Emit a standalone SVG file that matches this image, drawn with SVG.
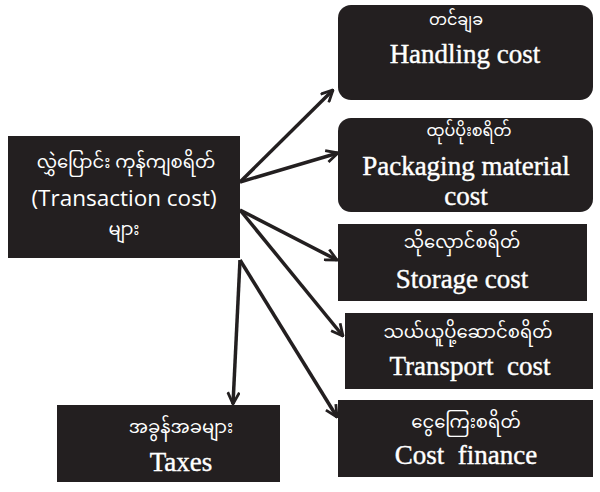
<svg xmlns="http://www.w3.org/2000/svg" width="600" height="492" viewBox="0 0 600 492">
<defs>
<style>
.box{fill:#231f20;}
.my{font-family:"Noto Sans Myanmar","Padauk","Myanmar Text","Noto Sans",sans-serif;font-size:18px;fill:#fff;text-anchor:middle;dominant-baseline:central;}
.sm{font-size:16px;}
.en{font-family:"Liberation Serif","Times New Roman",serif;font-size:27px;fill:#fff;stroke:#fff;stroke-width:0.4;text-anchor:middle;white-space:pre;}
.sans{font-family:"Open Sans","Noto Sans",sans-serif;font-size:22.5px;fill:#fff;text-anchor:middle;}
.con{stroke:#231f20;stroke-width:3.5;fill:none;marker-end:url(#ah);}
</style>
<marker id="ah" viewBox="0 0 12 12" refX="11" refY="6" markerWidth="14" markerHeight="14" markerUnits="userSpaceOnUse" orient="auto">
<path d="M1,1 L11,6 L1,11" fill="none" stroke="#231f20" stroke-width="2.4" stroke-linejoin="miter"/>
</marker>
</defs>
<rect width="600" height="492" fill="#fff"/>
<g id="connectors">
<line class="con" x1="240" y1="182" x2="333" y2="90"/>
<line class="con" x1="240" y1="182" x2="338" y2="153"/>
<line class="con" x1="240" y1="210" x2="337" y2="260"/>
<line class="con" x1="240" y1="210" x2="343" y2="336"/>
<line class="con" x1="240" y1="260" x2="337" y2="417"/>
<line class="con" x1="240" y1="260" x2="233" y2="404"/>
</g>
<g id="source">
<rect class="box" x="8" y="136" width="232" height="122"/>
<text class="my" x="126" y="163">လွှဲပြောင်း ကုန်ကျစရိတ်</text>
<text class="sans" x="124" y="206">(Transaction cost)</text>
<text class="my" x="124" y="230">များ</text>
</g>
<g id="handling">
<rect class="box" x="338" y="5" width="255" height="95" rx="13"/>
<text class="my sm" x="456" y="21">တင်ချခ</text>
<text class="en" x="465" y="63">Handling cost</text>
</g>
<g id="packaging">
<rect class="box" x="338" y="118" width="255" height="94" rx="13"/>
<text class="my sm" x="469" y="132">ထုပ်ပိုးစရိတ်</text>
<text class="en" x="466" y="175">Packaging material</text>
<text class="en" x="466" y="205">cost</text>
</g>
<g id="storage">
<rect class="box" x="338" y="224" width="249" height="77"/>
<text class="my" x="462" y="243">သိုလှောင်စရိတ်</text>
<text class="en" x="462" y="288">Storage cost</text>
</g>
<g id="transport">
<rect class="box" x="345" y="313" width="248" height="76"/>
<text class="my" x="468" y="333">သယ်ယူပို့ဆောင်စရိတ်</text>
<text class="en" x="470" y="375">Transport  cost</text>
</g>
<g id="finance">
<rect class="box" x="338" y="400" width="255" height="77"/>
<text class="my" x="466" y="423">ငွေကြေးစရိတ်</text>
<text class="en" x="466" y="464">Cost  finance</text>
</g>
<g id="taxes">
<rect class="box" x="57" y="405" width="223" height="77"/>
<text class="my" x="181" y="428">အခွန်အခများ</text>
<text class="en" x="181" y="471">Taxes</text>
</g>
</svg>
